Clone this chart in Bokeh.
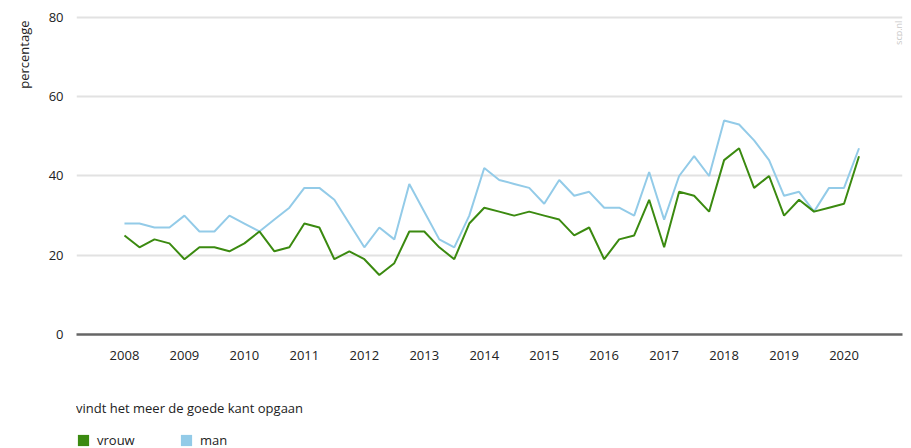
import numpy as np
from bokeh.plotting import figure
from bokeh.layouts import column
from bokeh.models import Range1d, FixedTicker, Legend, LegendItem, Title, Label
from bokeh.embed import file_html
from bokeh.resources import INLINE

# Quarterly data 2008 Q1 .. 2020 Q2
years = ["2008", "2009", "2010", "2011", "2012", "2013", "2014",
         "2015", "2016", "2017", "2018", "2019", "2020"]
vrouw = [25, 22, 24, 23, 19, 22, 22, 21, 23, 26, 21, 22, 28, 27, 19, 21,
         19, 15, 18, 26, 26, 22, 19, 28, 32, 31, 30, 31, 30, 29, 25, 27,
         19, 24, 25, 34, 22, 36, 35, 31, 44, 47, 37, 40, 30, 34, 31, 32,
         33, 45]
man = [28, 28, 27, 27, 30, 26, 26, 30, 28, 26, 29, 32, 37, 37, 34, 28,
       22, 27, 24, 38, 31, 24, 22, 30, 42, 39, 38, 37, 33, 39, 35, 36,
       32, 32, 30, 41, 29, 40, 45, 40, 54, 53, 49, 44, 35, 36, 31, 37,
       37, 47]
y_ticks = [0, 20, 40, 60, 80]
series_labels = ["vrouw", "man"]
legend_title = "vindt het meer de goede kant opgaan"

x = list(range(len(vrouw)))
tick_pos = [4 * i for i in range(len(years))]

GREEN = "#3b8a10"
BLUE = "#93cbe8"
TXT = "#222222"
FONT = "Open Sans"

p = figure(width=903, height=370, output_backend="svg", toolbar_location=None,
           x_range=Range1d(-3.2, 51.9), y_range=Range1d(0, 80.5),
           min_border_left=67, min_border_right=1, min_border_top=15,
           min_border_bottom=36)
p.outline_line_color = None
p.background_fill_color = "white"
p.border_fill_color = "white"

p.xgrid.visible = False
p.ygrid.ticker = FixedTicker(ticks=y_ticks)
p.ygrid.grid_line_color = "#e2e2e2"
p.ygrid.grid_line_width = 2

p.yaxis.ticker = FixedTicker(ticks=y_ticks)
p.yaxis.axis_line_color = None
p.yaxis.major_tick_line_color = None
p.yaxis.minor_tick_line_color = None
p.yaxis.major_label_standoff = 7
p.yaxis.major_label_text_font = FONT
p.yaxis.major_label_text_font_size = "13px"
p.yaxis.major_label_text_color = TXT

p.xaxis.ticker = FixedTicker(ticks=tick_pos)
p.xaxis.major_label_overrides = {t: y for t, y in zip(tick_pos, years)}
p.xaxis.axis_line_color = "#666666"
p.xaxis.axis_line_width = 2.5
p.xaxis.major_tick_line_color = None
p.xaxis.minor_tick_line_color = None
p.xaxis.major_label_standoff = 10
p.xaxis.major_label_text_font = FONT
p.xaxis.major_label_text_font_size = "13px"
p.xaxis.major_label_text_color = TXT

p.line(x, man, line_color=BLUE, line_width=2)
p.line(x, vrouw, line_color=GREEN, line_width=2)

ytitle = Title(text="percentage", align="right", offset=5, standoff=25,
               text_font=FONT, text_font_size="13px",
               text_font_style="normal", text_color=TXT)
p.add_layout(ytitle, "left")

wm = Label(x=51.6, y=79.2, text="scp.nl", angle=1.5708,
           text_align="right", text_baseline="middle",
           text_font=FONT, text_font_size="9px", text_color="#c8c8c8")
p.add_layout(wm)

# legend figure below the chart
lg = figure(width=903, height=78, output_backend="svg", toolbar_location=None,
            x_range=Range1d(0, 1), y_range=Range1d(0, 1),
            min_border_left=69, min_border_right=0, min_border_top=29,
            min_border_bottom=0)
lg.outline_line_color = None
lg.axis.visible = False
lg.grid.visible = False
nan = np.array([np.nan])
r_v = lg.quad(left=nan, right=nan, top=nan, bottom=nan, fill_color=GREEN, line_color=None)
r_m = lg.quad(left=nan, right=nan, top=nan, bottom=nan, fill_color=BLUE, line_color=None)

legend = Legend(items=[LegendItem(label=series_labels[0], renderers=[r_v]),
                       LegendItem(label=series_labels[1], renderers=[r_m])],
                orientation="horizontal", location="top_left",
                title=legend_title,
                title_text_font=FONT, title_text_font_size="13px",
                title_text_font_style="normal", title_text_color=TXT,
                title_standoff=14,
                label_text_font=FONT, label_text_font_size="13px",
                label_text_color=TXT,
                glyph_width=14, glyph_height=14, label_height=14,
                label_standoff=7, label_width=75, spacing=7,
                margin=0, padding=0,
                border_line_color=None, background_fill_alpha=0)
lg.add_layout(legend)

open("out.html", "w").write(file_html(column(p, lg, spacing=0), INLINE))
